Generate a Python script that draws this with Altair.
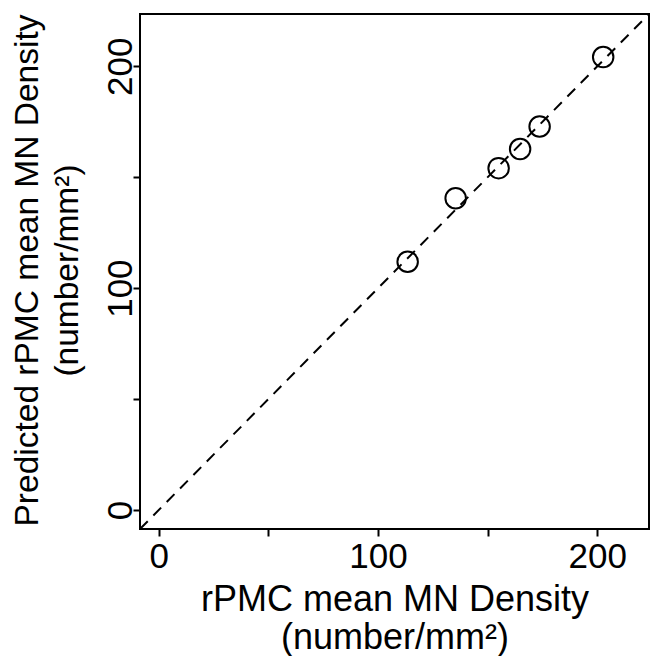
import altair as alt
import pandas as pd

# Data
observed = [113.5, 135.4, 155.0, 164.8, 173.7, 202.7]
predicted = [111.9, 140.5, 154.1, 162.7, 172.9, 204.2]
axis_range = [-8.6, 223.6]
tick_values = [0, 50, 100, 150, 200]
x_title = ["rPMC mean MN Density", "(number/mm²)"]
y_title = ["Predicted rPMC mean MN Density", "(number/mm²)"]

pts = pd.DataFrame({"obs": observed, "pred": predicted})
diag = pd.DataFrame({"obs": axis_range, "pred": axis_range})

FONT = "Liberation Sans"
label_expr = "datum.value % 100 == 0 ? datum.label : ''"

xscale = alt.Scale(domain=axis_range, nice=False, zero=False)
yscale = alt.Scale(domain=axis_range, nice=False, zero=False)

common = dict(
    values=tick_values, labelExpr=label_expr, grid=False, domain=False,
    tickColor="black", tickWidth=2, tickSize=7,
    labelColor="black", titleColor="black", labelFont=FONT, titleFont=FONT,
    titleFontWeight="normal", labelFontSize=35,
    labelFlush=False, labelOverlap=False,
)

xaxis = alt.Axis(
    title=x_title, titleFontSize=36, titleY=81, titleBaseline="alphabetic",
    titleLineHeight=38, labelPadding=3,
    **common,
)
yaxis = alt.Axis(
    title=y_title, titleFontSize=33.5,
    labelAngle=270, labelAlign="center", labelBaseline="alphabetic",
    labelPadding=2,
    titleX=-103, titleY=256, titleAngle=270, titleAlign="center",
    titleBaseline="alphabetic", titleLineHeight=40,
    **common,
)

line = alt.Chart(diag).mark_line(
    color="black", strokeDash=[11, 8], strokeWidth=2, clip=True
).encode(
    x=alt.X("obs:Q", scale=xscale, axis=xaxis),
    y=alt.Y("pred:Q", scale=yscale, axis=yaxis),
)

points = alt.Chart(pts).mark_point(
    shape="circle", filled=False, size=420, strokeWidth=2, color="black", opacity=1
).encode(
    x=alt.X("obs:Q", scale=xscale),
    y=alt.Y("pred:Q", scale=yscale),
)

chart = alt.layer(line, points).properties(
    width=509, height=515,
    autosize=alt.AutoSizeParams(type="none"),
    padding={"left": 132, "top": 6, "right": 1, "bottom": 127},
    background="white",
).configure_view(
    stroke="black", strokeWidth=2
)

chart.save("out.html", embed_options={"renderer": "svg", "actions": False})
